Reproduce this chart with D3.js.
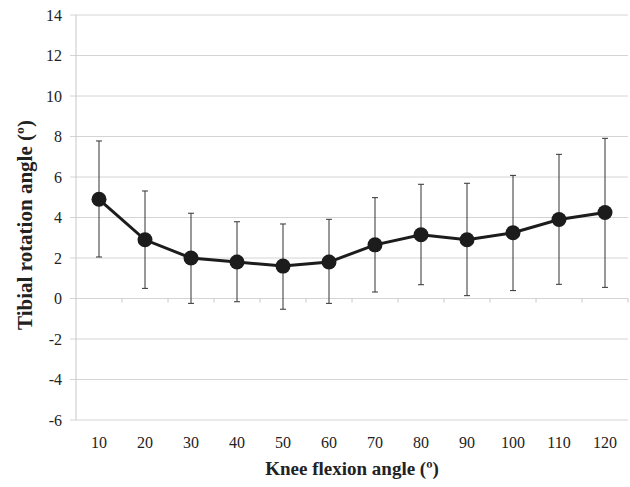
<!DOCTYPE html>
<html>
<head>
<meta charset="utf-8">
<script src="https://cdn.jsdelivr.net/npm/d3@7"></script>
<style>
  body { margin: 0; background: #fff; }
  text { font-family: "Liberation Serif", "Times New Roman", serif; fill: #222; }
</style>
</head>
<body>
<div id="chart"></div>
<script>
// knee flexion vs tibial rotation, mean with error bars

const angles = ["10", "20", "30", "40", "50", "60", "70", "80", "90", "100", "110", "120"];
const meanRot = [4.9, 2.9, 2.0, 1.8, 1.6, 1.8, 2.65, 3.15, 2.9, 3.25, 3.9, 4.25];
const upperRot = [7.78, 5.31, 4.21, 3.79, 3.68, 3.91, 4.98, 5.64, 5.69, 6.08, 7.12, 7.91];
const lowerRot = [2.05, 0.5, -0.24, -0.16, -0.53, -0.24, 0.32, 0.68, 0.14, 0.39, 0.7, 0.55];
const yTicks = [-6, -4, -2, 0, 2, 4, 6, 8, 10, 12, 14];

const width = 630, height = 487;
const margin = { top: 15, right: 2, bottom: 67, left: 76 };

const svg = d3.select("#chart").append("svg")
    .attr("width", width)
    .attr("height", height);

const x = d3.scaleBand()
    .domain(angles)
    .range([margin.left, width - margin.right]);

const y = d3.scaleLinear()
    .domain([-6, 14])
    .range([height - margin.bottom, margin.top]);

// gridlines
svg.append("g")
    .selectAll("line")
    .data(yTicks)
    .enter().append("line")
    .attr("x1", margin.left - 6)
    .attr("x2", width - margin.right)
    .attr("y1", d => y(d))
    .attr("y2", d => y(d))
    .attr("stroke", "#d4d4d4")
    .attr("stroke-width", 1);

// left axis line
svg.append("line")
    .attr("x1", margin.left).attr("x2", margin.left)
    .attr("y1", y(14)).attr("y2", y(-6))
    .attr("stroke", "#c8c8c8");

// y tick labels
svg.append("g")
    .selectAll("text")
    .data(yTicks)
    .enter().append("text")
    .attr("x", 62)
    .attr("y", d => y(d))
    .attr("dy", "0.35em")
    .attr("text-anchor", "end")
    .style("font-size", "16px")
    .text(d => d);

// category ticks on the zero line
const bounds = angles.map(a => x(a)).slice(1).concat([x(angles[angles.length - 1]) + x.bandwidth()]);
svg.append("g")
    .selectAll("line")
    .data(bounds)
    .enter().append("line")
    .attr("x1", d => d).attr("x2", d => d)
    .attr("y1", y(0)).attr("y2", y(0) + 4)
    .attr("stroke", "#c8c8c8");

// x tick labels
svg.append("g")
    .selectAll("text")
    .data(angles)
    .enter().append("text")
    .attr("x", d => x(d) + x.bandwidth() / 2)
    .attr("y", 442)
    .attr("dy", "0.35em")
    .attr("text-anchor", "middle")
    .style("font-size", "16px")
    .text(d => d);

const cx = i => x(angles[i]) + x.bandwidth() / 2;

// error bars
const err = svg.append("g").attr("stroke", "#333").attr("stroke-width", 1);
angles.forEach((a, i) => {
    err.append("line")
        .attr("x1", cx(i)).attr("x2", cx(i))
        .attr("y1", y(upperRot[i])).attr("y2", y(lowerRot[i]));
    [upperRot[i], lowerRot[i]].forEach(v => {
        err.append("line")
            .attr("x1", cx(i) - 3).attr("x2", cx(i) + 3)
            .attr("y1", y(v)).attr("y2", y(v));
    });
});

// mean line
const line = d3.line()
    .x((d, i) => cx(i))
    .y(d => y(d));

svg.append("path")
    .datum(meanRot)
    .attr("d", line)
    .attr("fill", "none")
    .attr("stroke", "#1c1c1c")
    .attr("stroke-width", 3);

svg.append("g")
    .selectAll("circle")
    .data(meanRot)
    .enter().append("circle")
    .attr("cx", (d, i) => cx(i))
    .attr("cy", d => y(d))
    .attr("r", 7.5)
    .attr("fill", "#1c1c1c");

// axis titles
svg.append("text")
    .attr("x", (margin.left + width - margin.right) / 2)
    .attr("y", 468)
    .attr("dy", "0.35em")
    .attr("text-anchor", "middle")
    .style("font-size", "19px")
    .style("font-weight", "bold")
    .text("Knee flexion angle (º)");

svg.append("text")
    .attr("transform", "translate(25, 225) rotate(-90)")
    .attr("dy", "0.35em")
    .attr("text-anchor", "middle")
    .style("font-size", "21px")
    .style("font-weight", "bold")
    .text("Tibial rotation angle (º)");
</script>
</body>
</html>
